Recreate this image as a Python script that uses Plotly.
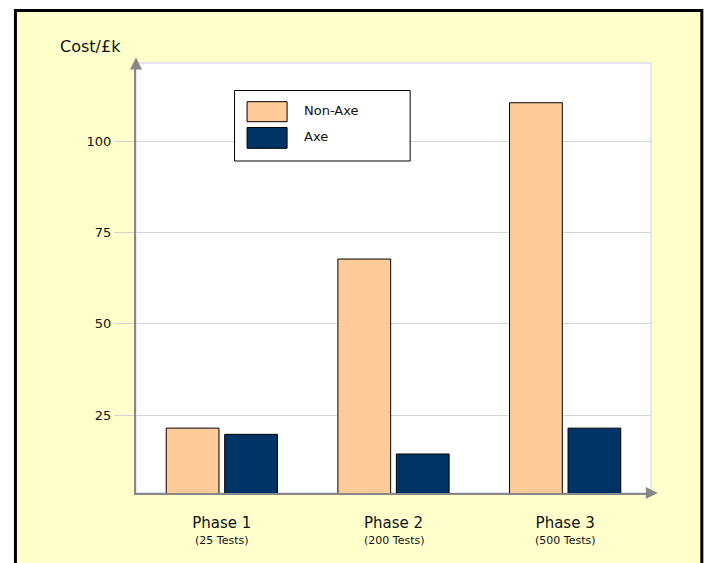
import plotly.graph_objects as go

# ---------------- data ----------------
categories = ["Phase 1", "Phase 2", "Phase 3"]
sub_labels = ["(25 Tests)", "(200 Tests)", "(500 Tests)"]
series_names = ["Non-Axe", "Axe"]
non_axe = [21.4, 67.8, 110.7]
axe = [19.7, 14.3, 21.4]
y_tickvals = [25, 50, 75, 100]
y_title = "Cost/£k"

# ---------------- layout constants ----------------
W, H = 707, 563
L, R, T, B = 136, 56.3, 63, 70
PW, PH = W - L - R, H - T - B
FONT = "DejaVu Sans"
colors = ["#FFCC99", "#003366"]


def px(x):
    return (x - L) / PW


def py(y):
    return (H - B - y) / PH


fig = go.Figure()
for name, vals, col in zip(series_names, [non_axe, axe], colors):
    fig.add_trace(go.Bar(
        x=categories, y=vals, name=name,
        marker=dict(color=col, line=dict(color="#000000", width=1)),
        showlegend=False,
    ))

shapes = [
    # yellow panel with black frame
    dict(type="rect", xref="paper", yref="paper", layer="below",
         x0=px(15.5), x1=px(701.5), y0=py(620), y1=py(10.5),
         fillcolor="#FFFFCC", line=dict(color="#000000", width=3)),
    # white plot area with light border
    dict(type="rect", xref="paper", yref="paper", layer="below",
         x0=0, x1=1, y0=0, y1=1,
         fillcolor="#FFFFFF", line=dict(color="#DCDCEE", width=1.5)),
    # legend box
    dict(type="rect", xref="paper", yref="paper", layer="above",
         x0=px(234.5), x1=px(410), y0=py(161), y1=py(90.5),
         fillcolor="#FFFFFF", line=dict(color="#000000", width=1)),
]
legend_rows = [(101.7, 121.7, 110.5), (127.5, 148.3, 136)]
annotations = []
for (ya, yb, yt), name, col in zip(legend_rows, series_names, colors):
    shapes.append(dict(type="rect", xref="paper", yref="paper", layer="above",
                       x0=px(247), x1=px(287), y0=py(yb), y1=py(ya),
                       fillcolor=col, line=dict(color="#000000", width=1)))
    annotations.append(dict(xref="paper", yref="paper", x=px(302), y=py(yt),
                            text=name, showarrow=False, xanchor="left",
                            yanchor="middle",
                            font=dict(family=FONT, size=13, color="#111111")))

# axis title
annotations.append(dict(xref="paper", yref="paper", x=px(90.5), y=py(47),
                        text=y_title, showarrow=False, xanchor="center",
                        yanchor="middle",
                        font=dict(family=FONT, size=16, color="#111111")))
# sub labels under category labels
for cat, sub in zip(categories, sub_labels):
    annotations.append(dict(xref="x", yref="paper", x=cat, y=py(540.5),
                            text=sub, showarrow=False, xanchor="center",
                            yanchor="middle",
                            font=dict(family=FONT, size=11, color="#111111")))
# axis arrows
annotations.append(dict(xref="paper", yref="paper", x=px(136), y=py(57.5),
                        ax=0, ay=12, text="", showarrow=True, arrowhead=2,
                        arrowsize=1.2, arrowwidth=2, arrowcolor="#888888"))
annotations.append(dict(xref="paper", yref="paper", x=px(657.5), y=py(493),
                        ax=-12, ay=0, text="", showarrow=True, arrowhead=2,
                        arrowsize=1.2, arrowwidth=2, arrowcolor="#888888"))

fig.update_layout(
    width=W, height=H,
    margin=dict(l=L, r=R, t=T, b=B, pad=0),
    paper_bgcolor="#FFFFFF",
    plot_bgcolor="rgba(0,0,0,0)",
    barmode="group", bargap=0.319, bargroupgap=0.0976,
    shapes=shapes, annotations=annotations,
    font=dict(family=FONT, color="#111111"),
    showlegend=False,
)
fig.update_xaxes(
    type="category", showgrid=False, zeroline=False,
    showline=True, linecolor="#888888", linewidth=2,
    ticks="", ticklabelstandoff=15,
    tickfont=dict(family=FONT, size=15, color="#111111"),
)
fig.update_yaxes(
    range=[3.6, 121.6], tickvals=y_tickvals,
    showgrid=True, gridcolor="#D4D4D4", gridwidth=1,
    zeroline=False, showline=True, linecolor="#888888", linewidth=2,
    ticks="outside", ticklen=20, tickcolor="#D4D4D4", tickwidth=1,
    tickfont=dict(family=FONT, size=13, color="#111111"),
)
fig.write_html("out.html")
